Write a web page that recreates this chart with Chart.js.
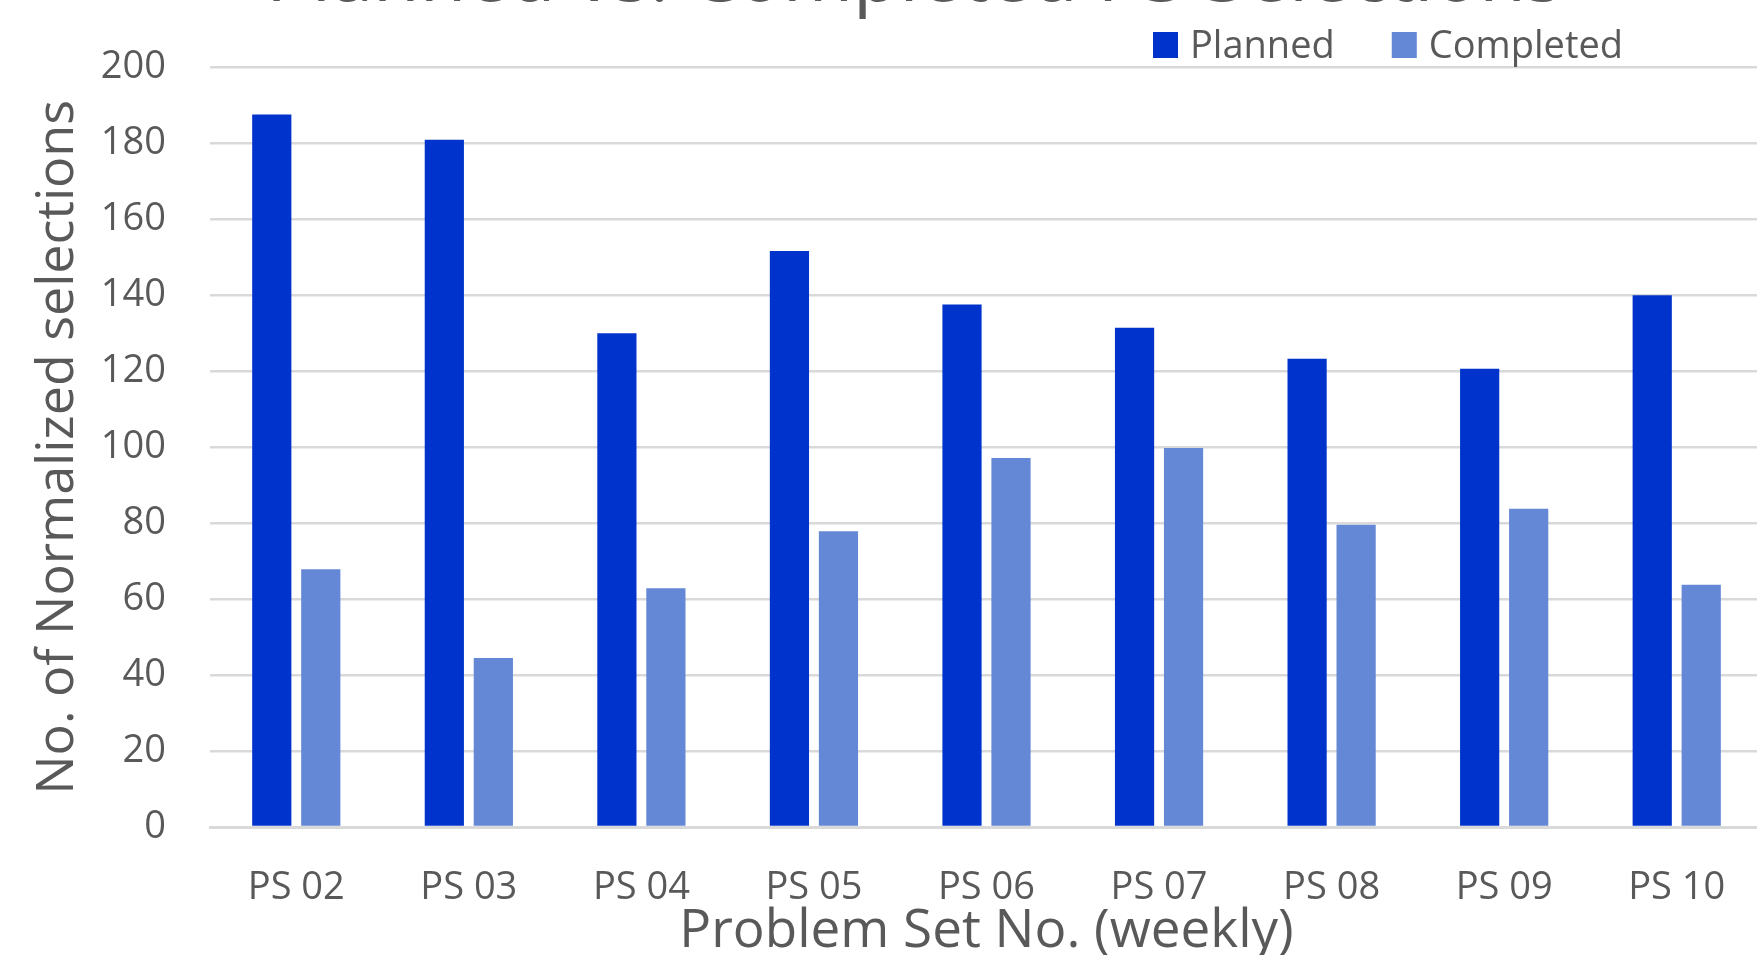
<!DOCTYPE html>
<html>
<head>
<meta charset="utf-8">
<title>Planned vs. Completed PS Selections</title>
<script src="https://cdn.jsdelivr.net/npm/chart.js@4.4.1/dist/chart.umd.min.js"></script>
<style>
  html, body { margin: 0; padding: 0; background: #FFFFFF; }
  #wrap { width: 1757px; height: 955px; overflow: hidden; position: relative; }
  #grafico { position: absolute; left: 0; top: 0; }
</style>
</head>
<body>
<div id="wrap">
  <canvas id="grafico" width="1773" height="960"></canvas>
</div>
<script>
// Dados
const problem_sets = ["PS 02", "PS 03", "PS 04", "PS 05", "PS 06", "PS 07", "PS 08", "PS 09", "PS 10"];
const planned = [187.6, 181, 130, 151.7, 137.6, 131.5, 123.3, 120.7, 140];
const completed = [67.9, 44.5, 62.9, 77.9, 97.2, 99.8, 79.6, 83.8, 63.8];
const y_min = 0;
const y_max = 200;
const y_step = 20;

const grafico = document.getElementById("grafico");
const cinza = "#595959";
const fonte = "'Open Sans', 'Noto Sans', sans-serif";

// titulo (cortado no topo, como na imagem original)
const tituloPlugin = {
  id: "tituloCortado",
  afterDraw(chart) {
    const ctx = chart.ctx;
    ctx.save();
    ctx.font = "76px " + fonte;
    ctx.fillStyle = cinza;
    ctx.textAlign = "center";
    ctx.textBaseline = "alphabetic";
    ctx.fillText("Planned vs. Completed PS Selections", 914, 1);
    ctx.restore();
  },
};

// legenda no canto superior direito
const legendaPlugin = {
  id: "legendaTopo",
  afterDraw(chart) {
    const ctx = chart.ctx;
    ctx.save();
    ctx.font = "38px " + fonte;
    ctx.textBaseline = "middle";
    let x = 1153;
    chart.data.datasets.forEach((ds) => {
      ctx.fillStyle = ds.backgroundColor;
      ctx.fillRect(x, 32, 25, 26);
      ctx.fillStyle = cinza;
      ctx.fillText(ds.label, x + 37, 47);
      x += 37 + ctx.measureText(ds.label).width + 57;
    });
    ctx.restore();
  },
};

new Chart(grafico, {
  type: "bar",
  data: {
    labels: problem_sets,
    datasets: [
      {
        label: "Planned",
        data: planned,
        backgroundColor: "#0033CC",
        borderWidth: 0,
        categoryPercentage: 0.568,
        barPercentage: 0.8,
      },
      {
        label: "Completed",
        data: completed,
        backgroundColor: "#6488D5",
        borderWidth: 0,
        categoryPercentage: 0.568,
        barPercentage: 0.8,
      },
    ],
  },
  options: {
    responsive: false,
    animation: false,
    layout: {
      padding: { top: 67.5, left: 0, right: 10, bottom: 2 },
    },
    scales: {
      x: {
        grid: { display: false },
        border: { display: true, color: "#D9D9D9", width: 3 },
        ticks: {
          color: cinza,
          padding: 34,
          font: { family: fonte, size: 38, lineHeight: 1 },
        },
        title: {
          display: true,
          text: "Problem Set No. (weekly)",
          color: cinza,
          padding: { top: 0, bottom: 0 },
          font: { family: fonte, size: 53, lineHeight: 1 },
        },
        afterFit: (axis) => {
          axis.height = 131;
        },
      },
      y: {
        min: y_min,
        max: y_max,
        border: { display: false },
        grid: { color: "#D9D9D9", lineWidth: 2.5, drawTicks: false },
        ticks: {
          stepSize: y_step,
          color: cinza,
          padding: 44,
          font: { family: fonte, size: 38, lineHeight: 1 },
        },
        title: {
          display: true,
          text: "No. of Normalized selections",
          color: cinza,
          padding: { top: 32.5, bottom: 0 },
          font: { family: fonte, size: 52, lineHeight: 1 },
        },
        afterFit: (axis) => {
          axis.width = 210;
        },
      },
    },
    plugins: {
      legend: { display: false },
      title: { display: false },
      tooltip: { enabled: false },
    },
  },
  plugins: [tituloPlugin, legendaPlugin],
});
</script>
</body>
</html>
